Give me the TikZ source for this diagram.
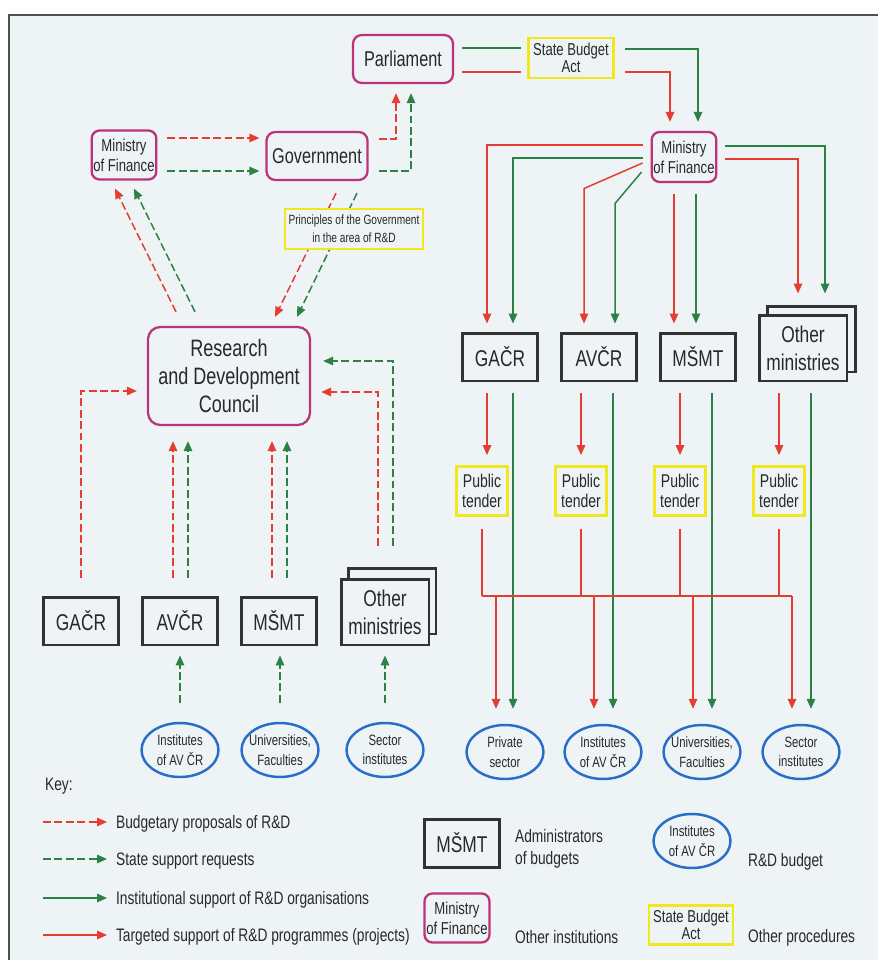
\documentclass[tikz,border=0pt]{standalone}
\usepackage{fontspec}
\setmainfont{Liberation Sans}[FakeStretch=0.76]
\usetikzlibrary{arrows.meta,calc,shapes.geometric,shadows}
\definecolor{bg}{RGB}{238,243,245}
\definecolor{ink}{RGB}{40,40,40}
\definecolor{boxdark}{RGB}{50,50,50}
\definecolor{framegray}{RGB}{80,80,80}
\definecolor{magbox}{RGB}{190,50,120}
\definecolor{procyel}{RGB}{240,232,30}
\definecolor{ellblue}{RGB}{40,110,200}
\definecolor{arred}{RGB}{228,62,52}
\definecolor{argreen}{RGB}{45,128,70}

\begin{document}
\begin{tikzpicture}[x=0.02cm, y=-0.02cm,
    every node/.style={text=ink, inner sep=1pt, align=center},
    tip/.style={-{Triangle[length=2mm, width=1.7mm]}},
    budprop/.style={arred, line width=0.85pt, dash pattern=on 4.5pt off 2pt},
    supreq/.style={argreen, line width=0.85pt, dash pattern=on 4.5pt off 2pt},
    instsup/.style={argreen, line width=0.85pt},
    tgtsup/.style={arred, line width=0.85pt},
    big/.style={font=\fontsize{12.2}{14}\selectfont},
    small/.style={font=\fontsize{9.8}{11.5}\selectfont},
    tight/.style={font=\fontsize{9.8}{9.5}\selectfont},
    admin/.style={draw=boxdark, line width=1.7pt, fill=bg, minimum width=1.5cm, minimum height=0.96cm, font=\fontsize{13}{16}\selectfont},
    others/.style 2 args={admin, minimum width=1.76cm, minimum height=1.32cm,
      copy shadow={shadow xshift=#1, shadow yshift=#2, fill=bg, draw=boxdark, line width=1.7pt}},
    inst/.style={draw=magbox, line width=1.3pt, rounded corners=5pt, fill=bg},
    proc/.style={draw=procyel, line width=1.6pt, fill=bg},
    budget/.style={ellipse, draw=ellblue, line width=1.4pt, fill=bg, minimum width=1.54cm, minimum height=1.08cm, inner sep=-4pt, font=\fontsize{8.5}{11}\selectfont},
    keytext/.style={anchor=base west, align=left, font=\fontsize{10.3}{12.5}\selectfont}]

    % Page and frame
    \useasboundingbox (0,0) rectangle (878,960);
    \fill[white] (0,0) rectangle (878,960);
    \fill[bg] (9,15) rectangle (878,960);
    \draw[line width=1.7pt, framegray] (878,15) -- (9,15) -- (9,960);

    % Institutions
    \node[inst, small, minimum width=1.28cm, minimum height=0.98cm, rounded corners=4.5pt] (mofL) at (124,155) {Ministry\\of Finance};
    \node[inst, big, minimum width=2.02cm, minimum height=0.96cm] (gov) at (317,156) {Government};
    \node[inst, big, minimum width=2cm, minimum height=0.96cm] (parl) at (403,59) {Parliament};
    \node[proc, tight, minimum width=1.7cm, minimum height=0.8cm] (sba) at (571,58) {State Budget\\Act};
    \node[inst, small, minimum width=1.28cm, minimum height=1cm, rounded corners=4.5pt] (mofR) at (684,157) {Ministry\\of Finance};
    \node[inst, rounded corners=7pt, font=\fontsize{13.5}{16}\selectfont, minimum width=3.24cm, minimum height=1.96cm] (rdc) at (229,376) {Research\\and Development\\Council};

    % State budget act
    \draw[instsup] ($(parl.east)+(8,-11)$) -- ($(sba.west)+(-6,-10)$);
    \draw[tgtsup] ($(parl.east)+(8,13)$) -- ($(sba.west)+(-6,14)$);
    \draw[instsup, tip] ($(sba.east)+(10,-9)$) -| ($(mofR.north)+(14,-9)$);
    \draw[tgtsup, tip] ($(sba.east)+(10,14)$) -| ($(mofR.north)+(-14,-9)$);

    % Proposals and requests up to Parliament
    \draw[budprop, tip] ($(mofL.east)+(10,-17)$) -- ($(gov.west)+(-6,-18)$);
    \draw[supreq, tip] ($(mofL.east)+(10,16)$) -- ($(gov.west)+(-6,15)$);
    \draw[budprop, tip] ($(gov.east)+(10,-17)$) -| ($(parl.south)+(-7,9)$);
    \draw[supreq, tip] ($(gov.east)+(10,15)$) -| ($(parl.south)+(8,9)$);
    \draw[budprop, tip] ($(gov.south)+(19,12)$) -- ($(rdc.north)+(46,-9)$);
    \draw[supreq, tip] ($(gov.south)+(40,12)$) -- ($(rdc.north)+(68,-9)$);
    \node[proc, font=\fontsize{7.6}{10}\selectfont, minimum width=2.76cm, minimum height=0.8cm] (prin) at (354,229) {Principles of the Government\\in the area of R\&D};
    \draw[budprop, tip] ($(rdc.north)+(-53,-14)$) -- ($(mofL.south)+(-9,8)$);
    \draw[supreq, tip] ($(rdc.north)+(-34,-14)$) -- ($(mofL.south)+(10,8)$);

    % Left: administrators of budgets
    \node[admin] (gacrL) at (81,621) {GAČR};
    \node[admin] (avcrL) at (180,621) {AVČR};
    \node[admin] (msmtL) at (279,621) {MŠMT};
    \node[others={0.14cm}{0.22cm}] (othL) at (385,612) {Other\\ministries};
    \draw[budprop, tip] ($(gacrL.north)+(0,-18)$) |- ($(rdc.west)+(-10,15)$);
    \draw[budprop, tip] ($(avcrL.north)+(-7,-18)$) -- ($(rdc.south)+(-56,15)$);
    \draw[supreq, tip] ($(avcrL.north)+(8,-18)$) -- ($(rdc.south)+(-41,15)$);
    \draw[budprop, tip] ($(msmtL.north)+(-7,-18)$) -- ($(rdc.south)+(43,15)$);
    \draw[supreq, tip] ($(msmtL.north)+(8,-18)$) -- ($(rdc.south)+(58,15)$);
    \draw[budprop, tip] ($(othL.north)+(-7,-32)$) |- ($(rdc.east)+(10,16)$);
    \draw[supreq, tip] ($(othL.north)+(8,-32)$) |- ($(rdc.east)+(12,-15)$);

    % Left: R&D budget
    \node[budget] (eL1) at (180,750) {Institutes\\of AV ČR};
    \node[budget] (eL2) at (280,750) {Universities,\\Faculties};
    \node[budget] (eL3) at (385,750) {Sector\\institutes};
    \draw[supreq, tip] ($(eL1.north)+(0,-19)$) -- ($(avcrL.south)+(0,9)$);
    \draw[supreq, tip] ($(eL2.north)+(0,-19)$) -- ($(msmtL.south)+(1,9)$);
    \draw[supreq, tip] ($(eL3.north)+(0,-19)$) -- ($(othL.south)+(0,9)$);

    % Right: administrators of budgets
    \node[admin] (gacrR) at (500,357) {GAČR};
    \node[admin] (avcrR) at (599,357) {AVČR};
    \node[admin] (msmtR) at (698,357) {MŠMT};
    \node[others={0.17cm}{0.18cm}] (othR) at (803,348) {Other\\ministries};
    \draw[tgtsup, tip] ($(mofR.west)+(-8,-12)$) -| ($(gacrR.north)+(-13,-8)$);
    \draw[instsup, tip] ($(mofR.west)+(-8,1)$) -| ($(gacrR.north)+(13,-8)$);
    \draw[tgtsup, tip] ($(mofR.west)+(-8,6)$) -- ($(avcrR.north)+(-15,-143)$) -- ($(avcrR.north)+(-15,-8)$);
    \draw[instsup, tip] ($(mofR.west)+(-9,15)$) -- ($(avcrR.north)+(16,-128)$) -- ($(avcrR.north)+(16,-8)$);
    \draw[tgtsup, tip] ($(mofR.south)+(-10,11)$) -- ($(msmtR.north)+(-24,-8)$);
    \draw[instsup, tip] ($(mofR.south)+(12,11)$) -- ($(msmtR.north)+(-2,-8)$);
    \draw[instsup, tip] ($(mofR.east)+(8,-11)$) -| ($(othR.north)+(22,-20)$);
    \draw[tgtsup, tip] ($(mofR.east)+(8,2)$) -| ($(othR.north)+(-5,-20)$);

    % Public tenders
    \foreach \n/\x in {ptA/482, ptB/581, ptC/680, ptD/779}
        \node[proc, font=\fontsize{10.5}{11.5}\selectfont, minimum width=1.02cm, minimum height=0.98cm] (\n) at (\x,491) {Public\\tender};
    \draw[tgtsup, tip] ($(gacrR.south)+(-13,11)$) -- ($(ptA.north)+(5,-10)$);
    \draw[tgtsup, tip] ($(avcrR.south)+(-18,11)$) -- ($(ptB.north)+(0,-10)$);
    \draw[tgtsup, tip] ($(msmtR.south)+(-18,11)$) -- ($(ptC.north)+(0,-10)$);
    \draw[tgtsup, tip] ($(othR.south)+(-24,11)$) -- ($(ptD.north)+(0,-10)$);

    % Right: R&D budget
    \node[budget] (eR1) at (505,752) {Private\\sector};
    \node[budget] (eR2) at (603,752) {Institutes\\of AV ČR};
    \node[budget] (eR3) at (702,752) {Universities,\\Faculties};
    \node[budget] (eR4) at (801,752) {Sector\\institutes};
    \draw[instsup, tip] ($(gacrR.south)+(13,11)$) -- ($(eR1.north)+(8,-15)$);
    \draw[instsup, tip] ($(avcrR.south)+(14,11)$) -- ($(eR2.north)+(10,-15)$);
    \draw[instsup, tip] ($(msmtR.south)+(14,11)$) -- ($(eR3.north)+(10,-15)$);
    \draw[instsup, tip] ($(othR.south)+(8,11)$) -- ($(eR4.north)+(10,-15)$);

    % Tender results
    \coordinate (bus) at (0,596);
    \foreach \n in {ptA,ptB,ptC,ptD}
        \draw[tgtsup] ($(\n.south)+(0,12)$) -- (bus -| \n.south);
    \draw[tgtsup] (bus -| ptA.south) -- ($(bus -| eR4.north)+(-9,0)$);
    \foreach \n in {eR1,eR2,eR3,eR4}
        \draw[tgtsup, tip] ($(bus -| \n.north)+(-9,0)$) -- ($(\n.north)+(-9,-15)$);

    % Key
    \node[keytext] (key) at (43,790) {Key:};
    \coordinate (k1) at (43,822);
    \coordinate (k2) at (43,859);
    \coordinate (k3) at (43,898);
    \coordinate (k4) at (43,935);
    \node[keytext] (k1t) at (114,828.5) {Budgetary proposals of R\&D};
    \node[keytext] (k2t) at (114,865.5) {State support requests};
    \node[keytext] (k3t) at (114,904.5) {Institutional support of R\&D organisations};
    \node[keytext] (k4t) at (114,941.5) {Targeted support of R\&D programmes (projects)};
    \draw[budprop, tip, shorten >=1.4mm] (k1) -- (k1 -| k1t.west);
    \draw[supreq, tip, shorten >=1.4mm] (k2) -- (k2 -| k2t.west);
    \draw[instsup, tip, shorten >=1.4mm] (k3) -- (k3 -| k3t.west);
    \draw[tgtsup, tip, shorten >=1.4mm] (k4) -- (k4 -| k4t.west);

    \node[admin] (kadm) at (462,843) {MŠMT};
    \node[keytext, anchor=west] (kadmt) at (513,849) {Administrators\\of budgets};
    \node[inst, small, minimum width=1.3cm, minimum height=0.98cm, rounded corners=4.5pt] (kinst) at (457,918) {Ministry\\of Finance};
    \node[keytext] (kinstt) at (513,943) {Other institutions};
    \node[budget] (kbud) at (692,841) {Institutes\\of AV ČR};
    \node[keytext] (kbudt) at (746,866) {R\&D budget};
    \node[proc, tight, minimum width=1.68cm, minimum height=0.78cm] (kproc) at (691,925) {State Budget\\Act};
    \node[keytext] (kproct) at (746,942) {Other procedures};
\end{tikzpicture}
\end{document}
